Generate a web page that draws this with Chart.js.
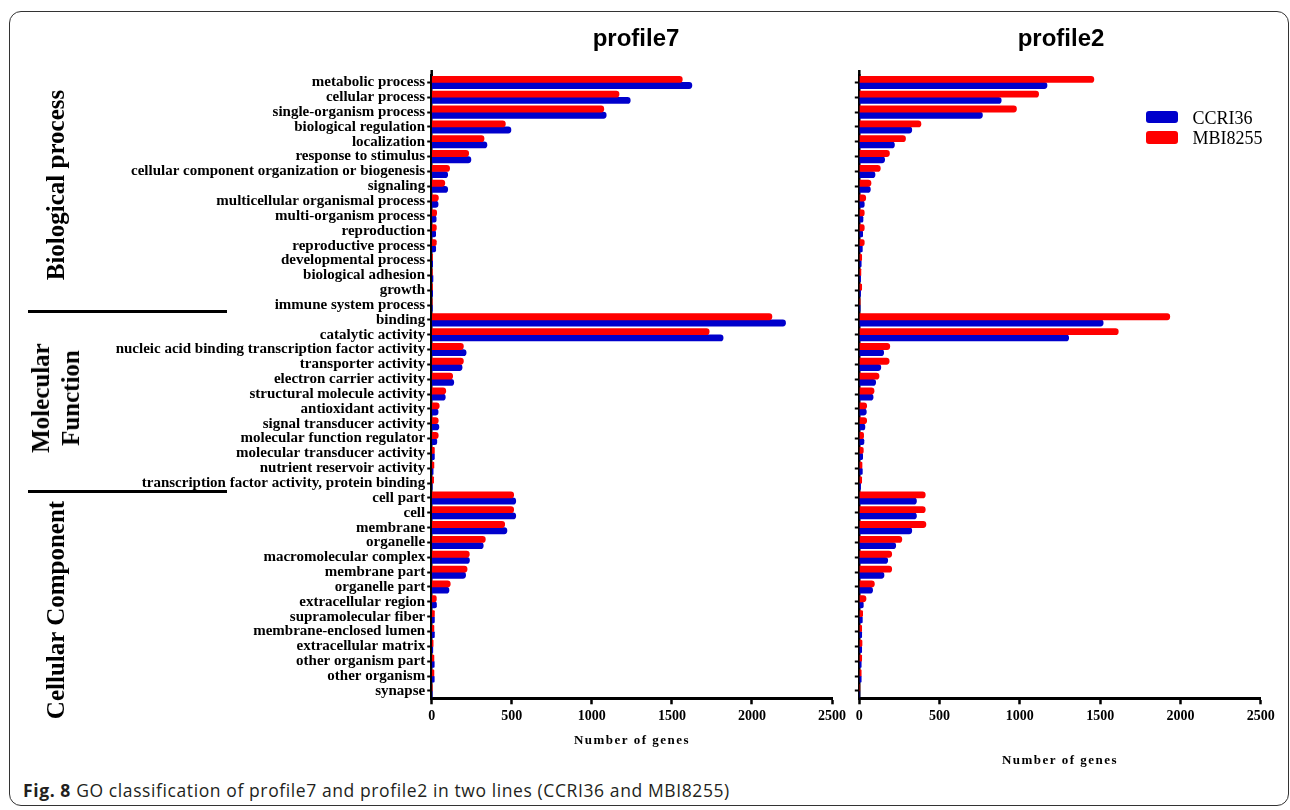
<!DOCTYPE html>
<html>
<head>
<meta charset="utf-8">
<script src="https://cdn.jsdelivr.net/npm/chart.js@4.4.0/dist/chart.umd.min.js"></script>
<style>
  html, body { margin: 0; padding: 0; background: #fff; }
  body { width: 1290px; height: 810px; position: relative; overflow: hidden; font-family: "Liberation Serif", serif; color: #000; }
  #frame { position: absolute; left: 9px; top: 11px; width: 1280px; height: 795px; border: 1.5px solid #333; border-radius: 12px; box-sizing: border-box; }
  canvas { position: absolute; top: 0; }
  #c7 { left: 0; }
  #c2 { left: 840px; }
  .title { position: absolute; width: 200px; text-align: center; font: bold 24px "Liberation Sans", Arial, sans-serif; line-height: 24px; top: 25.7px; }
  .group { position: absolute; white-space: nowrap; text-align: center; font: bold 25px "Liberation Serif", serif; line-height: 25px; transform: translate(-50%, -50%) rotate(-90deg); }
  .group.two { line-height: 30px; }
  .sep { position: absolute; left: 28px; width: 199px; height: 3.3px; background: #000; }
  .axtitle { position: absolute; width: 200px; text-align: center; font: bold 13px "Liberation Serif", serif; line-height: 13px; letter-spacing: 1.5px; }
  .lgbox { position: absolute; left: 1146px; width: 32px; height: 12.7px; border-radius: 3px; }
  .lgtext { position: absolute; left: 1192.5px; font: 18px "Liberation Serif", serif; line-height: 18px; white-space: nowrap; }
  #caption { position: absolute; left: 23px; top: 780.9px; font: 17.5px "Open Sans", sans-serif; line-height: 18px; letter-spacing: 0.6px; color: #231f20; white-space: nowrap; }
  #caption b { font-weight: bold; }
</style>
</head>
<body>
<div id="frame"></div>
<canvas id="c7" width="850" height="740"></canvas>
<canvas id="c2" width="450" height="740"></canvas>

<div class="title" style="left:536px;">profile7</div>
<div class="title" style="left:961px;">profile2</div>

<div class="group" style="left:55px; top:185px;">Biological process</div>
<div class="group two" style="left:56.3px; top:398px;">Molecular<br>Function</div>
<div class="group" style="left:55px; top:610px;">Cellular Component</div>
<div class="sep" style="top:310px;"></div>
<div class="sep" style="top:490px;"></div>

<div class="lgbox" style="top:110.7px; background:#0000cc;"></div>
<div class="lgtext" style="top:108.9px;">CCRI36</div>
<div class="lgbox" style="top:131px; background:#ff0000;"></div>
<div class="lgtext" style="top:128.9px;">MBI8255</div>

<div class="axtitle" style="left:532px; top:733.4px;">Number of genes</div>
<div class="axtitle" style="left:960px; top:753.1px;">Number of genes</div>

<div id="caption"><b>Fig. 8</b> GO classification of profile7 and profile2 in two lines (CCRI36 and MBI8255)</div>

<script>
// GO terms, top to bottom: Biological process (16), Molecular Function (12), Cellular Component (14)
const categories = [
  'metabolic process', 'cellular process', 'single-organism process', 'biological regulation',
  'localization', 'response to stimulus', 'cellular component organization or biogenesis', 'signaling',
  'multicellular organismal process', 'multi-organism process', 'reproduction', 'reproductive process',
  'developmental process', 'biological adhesion', 'growth', 'immune system process',
  'binding', 'catalytic activity', 'nucleic acid binding transcription factor activity', 'transporter activity',
  'electron carrier activity', 'structural molecule activity', 'antioxidant activity', 'signal transducer activity',
  'molecular function regulator', 'molecular transducer activity', 'nutrient reservoir activity',
  'transcription factor activity, protein binding',
  'cell part', 'cell', 'membrane', 'organelle', 'macromolecular complex', 'membrane part', 'organelle part',
  'extracellular region', 'supramolecular fiber', 'membrane-enclosed lumen', 'extracellular matrix',
  'other organism part', 'other organism', 'synapse'
];

// Number of genes per term
const profile7_CCRI36 = [
  1625, 1240, 1090, 495, 345, 245, 100, 100, 40, 28, 25, 25, 6, 8, 6, 4,
  2210, 1820, 215, 190, 138, 85, 40, 45, 32, 17, 9, 3,
  525, 525, 470, 322, 236, 212, 108, 30, 17, 17, 7, 16, 16, 3
];
const profile7_MBI8255 = [
  1565, 1170, 1075, 460, 327, 231, 112, 82, 42, 31, 29, 29, 5, 4, 5, 3,
  2125, 1733, 198, 198, 131, 88, 47, 41, 41, 17, 14, 12,
  512, 512, 456, 335, 235, 221, 116, 29, 17, 14, 9, 14, 14, 3
];
const profile2_CCRI36 = [
  1169, 884, 767, 327, 219, 158, 98, 69, 31, 23, 21, 19, 12, 8, 8, 5,
  1519, 1304, 152, 134, 102, 86, 44, 35, 29, 21, 19, 8,
  356, 356, 327, 227, 177, 154, 83, 25, 19, 15, 15, 12, 12, 3
];
const profile2_MBI8255 = [
  1461, 1117, 979, 384, 288, 188, 131, 73, 40, 31, 31, 31, 15, 10, 15, 5,
  1934, 1613, 190, 186, 123, 92, 46, 46, 27, 25, 17, 15,
  411, 411, 415, 265, 202, 202, 94, 42, 21, 15, 17, 15, 12, 3
];

const xTickValues = [0, 500, 1000, 1500, 2000, 2500];

const BLUE = '#0000cc';
const RED = '#ff0000';
const serifBold = (size) => ({ family: '"Liberation Serif", "Times New Roman", serif', weight: 'bold', size });

// Short extension of the value axis above the plot area
const axisCap = {
  id: 'axisCap',
  afterDraw(chart) {
    const { ctx, chartArea } = chart;
    ctx.save();
    ctx.strokeStyle = '#000';
    ctx.lineWidth = 2.5;
    ctx.beginPath();
    ctx.moveTo(chartArea.left, chartArea.top - 5);
    ctx.lineTo(chartArea.left, chartArea.top + 1);
    ctx.stroke();
    ctx.restore();
  }
};

function barDataset(label, data, color) {
  return {
    label, data,
    backgroundColor: color,
    barThickness: 6.2,
    borderRadius: 3.1,
    borderSkipped: 'start'
  };
}

function makeChart(id, red, blue, showLabels, yWidth, padRight) {
  return new Chart(document.getElementById(id), {
    type: 'bar',
    data: {
      labels: categories,
      datasets: [barDataset('MBI8255', red, RED), barDataset('CCRI36', blue, BLUE)]
    },
    options: {
      indexAxis: 'y',
      responsive: false,
      animation: false,
      devicePixelRatio: 1,
      layout: { padding: { left: 0, top: 75, right: padRight, bottom: 11.7 } },
      plugins: { legend: { display: false }, tooltip: { enabled: false }, title: { display: false } },
      scales: {
        x: {
          type: 'linear',
          min: xTickValues[0],
          max: xTickValues[xTickValues.length - 1],
          afterBuildTicks(scale) { scale.ticks = xTickValues.map(v => ({ value: v })); },
          ticks: {
            color: '#000', font: serifBold(14), padding: 4, maxRotation: 0, autoSkip: false,
            callback: (v) => String(v)
          },
          grid: { drawOnChartArea: false, drawTicks: true, tickLength: 6, tickWidth: 2.5, tickColor: '#000' },
          border: { display: true, color: '#000', width: 3 },
          afterFit(scale) { scale.height = 30; }
        },
        y: {
          type: 'category',
          offset: true,
          ticks: { display: showLabels, color: '#000', font: serifBold(15), padding: 2, autoSkip: false },
          grid: { offset: false, drawOnChartArea: false, drawTicks: true, tickLength: 4.5, tickWidth: 2, tickColor: '#000' },
          border: { display: true, color: '#000', width: 2.5 },
          afterFit(scale) { scale.width = yWidth; }
        }
      }
    },
    plugins: [axisCap]
  });
}

makeChart('c7', profile7_MBI8255, profile7_CCRI36, true, 431.7, 18);
makeChart('c2', profile2_MBI8255, profile2_CCRI36, false, 19.3, 29.3);
</script>
</body>
</html>
